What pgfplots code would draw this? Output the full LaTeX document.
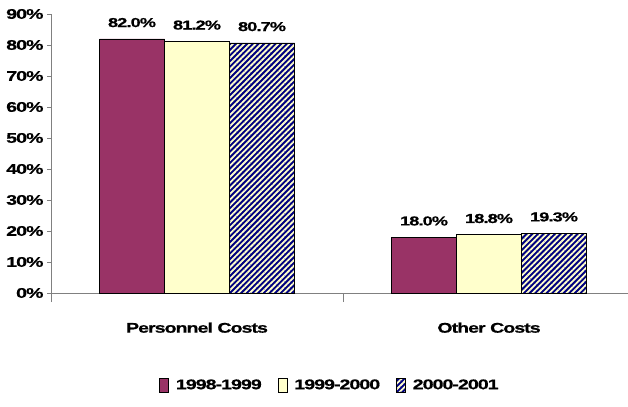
\documentclass[border=0pt]{standalone}
\usepackage{fontspec}
\setmainfont{Liberation Sans}[FakeStretch=1.4, LetterSpace=-7, BoldFeatures={FakeBold=0.6}]
\usepackage{pgfplots}
\pgfplotsset{compat=1.18}
\usetikzlibrary{patterns.meta}

\definecolor{plum}{HTML}{993366}
\definecolor{paleyellow}{HTML}{FFFFCC}
\definecolor{navy}{HTML}{000080}
\definecolor{axisgray}{HTML}{808080}

\begin{document}
\begin{tikzpicture}
\useasboundingbox (-51bp,-114bp) rectangle (577bp,293bp);
\begin{axis}[
    scale only axis,
    width=577bp, height=279bp,
    ybar, bar width=0.2226,
    xmin=-0.5, xmax=1.476,
    ymin=0, ymax=90,
    axis x line*=bottom, axis y line*=left,
    axis line style={axisgray, line width=0.8pt},
    tick style={axisgray, line width=0.8pt},
    tick align=outside,
    major tick length=4bp, minor tick length=9bp,
    xtick={0,1}, xticklabels={Personnel Costs, Other Costs},
    minor xtick={-0.5,0.5},
    major x tick style={draw=none},
    xticklabel style={yshift=-22bp, font=\fontsize{14bp}{16bp}\selectfont\bfseries},
    ytick={0,10,...,90},
    yticklabel={\pgfmathprintnumber{\tick}\%},
    yticklabel style={font=\fontsize{14bp}{16bp}\selectfont\bfseries},
    /pgf/number format/assume math mode=true,
    nodes near coords={\pgfmathprintnumber[fixed,fixed zerofill,precision=1]{\pgfplotspointmeta}\%},
    every node near coord/.append style={font=\fontsize{13bp}{15bp}\selectfont\bfseries, black, yshift=8bp},
    legend style={at={(0.4835,-0.33)}, anchor=center, draw=none, legend columns=-1,
        font=\fontsize{14bp}{16bp}\selectfont\bfseries,
        /tikz/every even column/.append style={column sep=14bp}},
    legend image code/.code={\draw[#1, draw=black, line width=0.5pt] (0bp,-7bp) rectangle (9bp,7bp);
        \path (14bp,0bp);},
]
\addplot[fill=plum, draw=black, line width=0.6pt, bar shift=-0.2226]
    coordinates {(0,82.0) (1,18.0)};
\addplot[fill=paleyellow, draw=black, line width=0.6pt, bar shift=0]
    coordinates {(0,81.2) (1,18.8)};
\addplot[fill=navy, draw=black, line width=0.6pt, bar shift=0.2226,
    postaction={pattern={Lines[angle=45, distance=4bp, line width=1.8bp]}, pattern color=paleyellow}]
    coordinates {(0,80.7) (1,19.3)};
\legend{1998-1999, 1999-2000, 2000-2001}
\end{axis}
\end{tikzpicture}
\end{document}
